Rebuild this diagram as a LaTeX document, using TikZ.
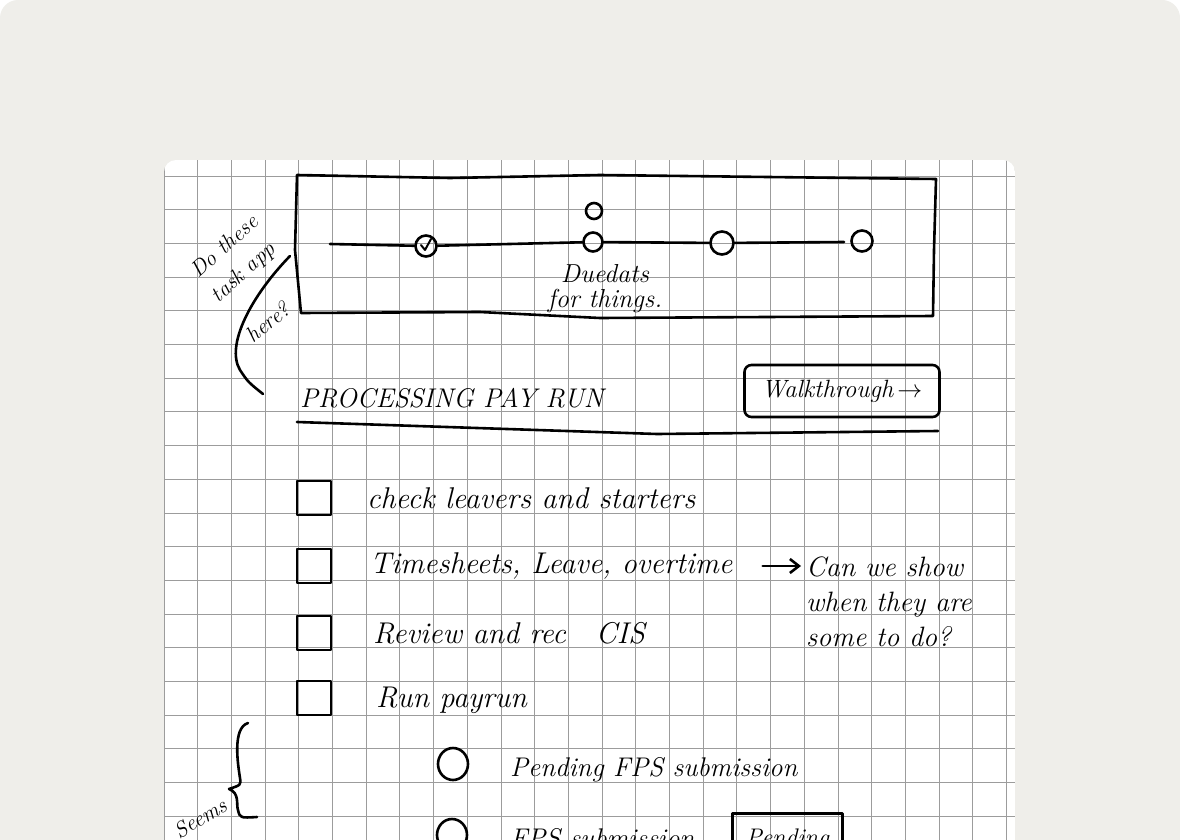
\documentclass[tikz,border=0pt]{standalone}
\usepackage{fontspec}
\usetikzlibrary{arrows.meta,shapes.geometric}
\definecolor{paper}{HTML}{EFEEEA}
\definecolor{gridgray}{HTML}{9C9C9C}

\begin{document}
\begin{tikzpicture}[x=1pt,y=-1pt,
  pen/.style={line width=2.6pt,line cap=round,line join=round},
  gridline/.style={gridgray,line width=1pt},
  hand/.style={font=\fontsize{30}{36}\selectfont\itshape,inner sep=0pt},
  small/.style={font=\fontsize{24}{27}\selectfont\itshape,inner sep=0pt},
  chkbox/.style={draw,pen,minimum size=34pt,inner sep=0pt},
  dot/.style={draw,pen,circle,inner sep=0pt},
  ring/.style={draw,pen,ellipse,minimum width=30pt,minimum height=32pt,inner sep=0pt},
  >={Straight Barb[length=9pt,width=14pt]}]
\clip (0,0) rectangle (1180,840);
\fill[white] (0,0) rectangle (1180,840);
\fill[paper,rounded corners=18pt] (0,0) rectangle (1180,880);
% grid paper
\begin{scope}
\clip[rounded corners=12pt] (164,160) rectangle (1015,880);
\fill[white] (164,160) rectangle (1015,840);
\foreach \i in {0,...,25} \draw[gridline] ({164+33.7*\i},160) -- ({164+33.7*\i},840);
\foreach \j in {0,...,19} \draw[gridline] (164,{176+33.7*\j}) -- (1015,{176+33.7*\j});
\end{scope}
% due date strip
\draw[pen] (297,175) -- (450,178) -- (600,175) -- (936,179) -- (934,250) -- (933,316) -- (600,318) -- (480,312) -- (301,313) -- (295,250) -- cycle;
\coordinate (tl0) at (330,244);
\coordinate (tl1) at (844,242);
\node[dot,minimum size=21pt] (d1) at (426,246) {};
\node[dot,minimum size=19pt] (d2) at (593,242) {};
\node[dot,minimum size=16pt] (d2b) at (594,211) {};
\node[dot,minimum size=23pt] (d3) at (722,243) {};
\node[dot,minimum size=21pt] (d4) at (862,241) {};
\draw[pen] (tl0) -- (d1) -- (d2) -- (d3) -- (tl1);
\draw[pen,line width=2pt] ([shift={(-5,-1)}]d1.center) -- ++(4,5) -- ++(6,-11);
\node[small,align=center,font=\fontsize{26}{25}\selectfont\itshape] (due) at (605,289) {Duedats\\for things.};
% side note
\node[small,rotate=42,font=\fontsize{22}{25}\selectfont\itshape] (ask1) at (224,246) {Do these};
\node[small,rotate=42,font=\fontsize{22}{25}\selectfont\itshape] (ask2) at (244,273) {task app};
\node[small,rotate=40,font=\fontsize{22}{25}\selectfont\itshape] (ask3) at (268,322) {here?};
\draw[pen] (290,256) .. controls (252,295) and (225,345) .. (240,370) .. controls (248,382) .. (263,394);
% heading
\node[hand,anchor=west,font=\fontsize{27}{30}\selectfont\itshape] (head) at (300,398) {PROCESSING PAY RUN};
\draw[pen] (297,422) -- (657,434) -- (938,431);
\node[draw,pen,rounded corners=7pt,minimum width=195pt,minimum height=52pt,font=\fontsize{25}{28}\selectfont\itshape] (walk) at (842,391) {Walkthrough\,$\rightarrow$};
% checklist
\foreach \y/\n in {498/1,566/2,633/3,698/4} \node[chkbox] (box\n) at (314,\y) {};
\node[hand,anchor=west] (item1) at (367,498) {check leavers and starters};
\node[hand,anchor=west] (item2) at (370,566) {Timesheets, Leave, overtime};
\node[hand,anchor=west] (item3) at (373,633) {Review and rec\quad CIS};
\node[hand,anchor=west] (item4) at (376,700) {Run payrun};
\node[hand,anchor=west,align=left,font=\fontsize{28}{35}\selectfont\itshape] (askdone) at (806,602) {Can we show\\when they are\\some to do?};
\draw[pen,->,shorten <=30pt,shorten >=5pt] (item2.east) -- (item2.east -| askdone.west);
% sub steps
\draw[pen] (248,723) .. controls (232,728) and (238,765) .. (240,778) .. controls (241,785) .. (229,789) .. controls (240,793) and (236,805) .. (238,810) .. controls (240,818) .. (257,817);
\node[small,rotate=31,font=\fontsize{22}{25}\selectfont\itshape] (seems) at (200,818) {Seems};
\node[ring] (o1) at (453,764) {};
\node[ring] (o2) at (452,835) {};
\node[hand,anchor=west,font=\fontsize{27}{30}\selectfont\itshape] (sub1) at (510,770) {Pending FPS submission};
\node[hand,anchor=west,font=\fontsize{27}{30}\selectfont\itshape] (sub2) at (510,838) {FPS submission};
\node[draw,pen,minimum width=110pt,minimum height=52pt,anchor=north west,font=\fontsize{24}{28}\selectfont\itshape] (tag) at (731,812) {Pending};
\end{tikzpicture}
\end{document}
